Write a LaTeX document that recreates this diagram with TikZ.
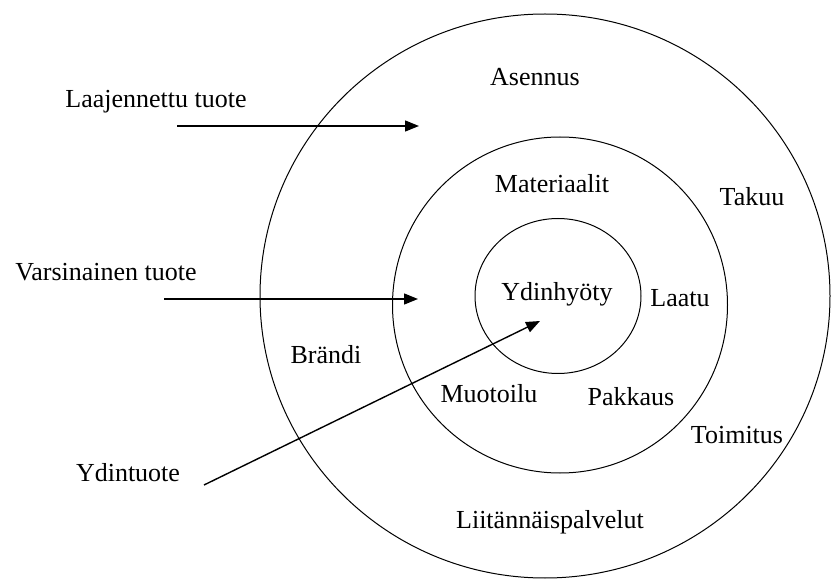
\documentclass[tikz,border=0pt]{standalone}
\usepackage{fontspec}
\setmainfont{Liberation Serif}
\usetikzlibrary{arrows.meta,shapes.geometric}
\begin{document}
\begin{tikzpicture}[x=1pt,y=-1pt,
  ring/.style={draw, ellipse, line width=1pt, inner sep=0pt},
  lbl/.style={inner sep=0pt, font=\fontsize{26}{31}\selectfont},
  pointer/.style={line width=1.4pt, -{Triangle[length=14pt,width=11pt]}}]
  \useasboundingbox (0,0) rectangle (831,580);
  % three nested rings
  \node[ring, minimum width=570pt, minimum height=564pt] (outer) at (545,296) {};
  \node[ring, minimum width=335pt, minimum height=336pt] (middle) at (560,305) {};
  \node[ring, minimum width=166pt, minimum height=155pt] (inner) at (558,296) {};
  % ring contents
  \node[lbl] (asennus) at (535,77) {Asennus};
  \node[lbl] (materiaalit) at (552,184) {Materiaalit};
  \node[lbl] (takuu) at (752,197) {Takuu};
  \node[lbl] (ydinhyoty) at (557,294) {Ydinhyöty};
  \node[lbl] (laatu) at (680,298) {Laatu};
  \node[lbl] (brandi) at (326,355) {Brändi};
  \node[lbl] (muotoilu) at (489,394) {Muotoilu};
  \node[lbl] (pakkaus) at (631,397) {Pakkaus};
  \node[lbl] (toimitus) at (737,435) {Toimitus};
  \node[lbl] (liitannais) at (550,522) {Liitännäispalvelut};
  % level labels on the left
  \node[lbl] (laaj) at (156,102) {Laajennettu tuote};
  \node[lbl] (vars) at (106,272) {Varsinainen tuote};
  \node[lbl] (ydint) at (128,473) {Ydintuote};
  % arrow ends
  \coordinate (laajA) at (177,126);
  \coordinate (laajB) at (419,126);
  \coordinate (varsA) at (164,299);
  \coordinate (varsB) at (418,299);
  \coordinate (ydintA) at (204,485);
  \coordinate (ydintB) at (540,321);
  \draw[pointer] (laajA) -- (laajB);
  \draw[pointer] (varsA) -- (varsB);
  \draw[pointer] (ydintA) -- (ydintB);
\end{tikzpicture}
\end{document}
